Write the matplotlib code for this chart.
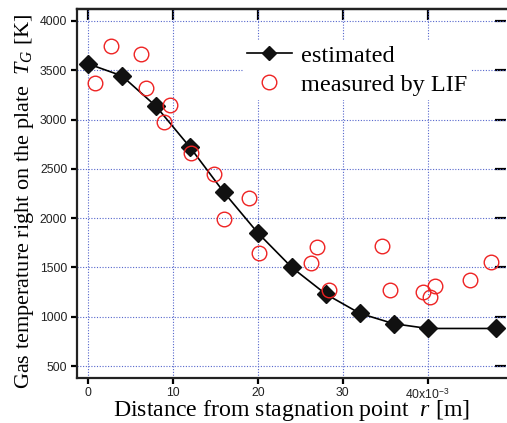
import matplotlib
matplotlib.use("Agg")
import matplotlib.pyplot as plt

plt.rcParams['font.family'] = ['Liberation Serif', 'DejaVu Serif']
plt.rcParams['mathtext.fontset'] = 'custom'
plt.rcParams['mathtext.it'] = 'Liberation Serif:italic'
plt.rcParams['mathtext.rm'] = 'Liberation Sans'

# estimated (x in 1e-3 m, T in K)
est_r = [0, 4, 8, 12, 16, 20, 24, 28, 32, 36, 40, 48]
est_T = [3565, 3442, 3135, 2720, 2262, 1850, 1500, 1230, 1035, 930, 882, 882]

# measured by LIF
lif_r = [0.8, 2.7, 6.3, 6.8, 9.7, 8.9, 12.1, 14.8, 18.9, 16.0, 20.1,
         27.0, 26.3, 28.4, 34.55, 35.6, 39.45, 40.2, 40.8, 45.0, 47.4]
lif_T = [3365, 3744, 3663, 3320, 3152, 2973, 2658, 2445, 2205, 1987, 1645,
         1703, 1545, 1270, 1713, 1270, 1255, 1200, 1310, 1372, 1558]

xticks = [0, 10, 20, 30, 40]
xticklabels = ['0', '10', '20', '30', '40x10$^{-3}$']
yticks = [500, 1000, 1500, 2000, 2500, 3000, 3500, 4000]

fig = plt.figure(figsize=(5.07, 4.23), dpi=100)
ax = fig.add_axes([77/507, 45/423, 429/507, 369/423])

ax.plot(est_r, est_T, color='black', lw=1.2, marker='D', ms=9.2,
        mfc='#111111', mec='#111111', label='estimated', zorder=3)
ax.plot(lif_r, lif_T, ls='none', marker='o', ms=10.5, mfc='none',
        mec='#ee2222', mew=1.0, label='measured by LIF', zorder=4)

ax.set_xlim(-1.29, 49.2)
ax.set_ylim(380, 4120)
ax.set_xticks(xticks)
ax.set_xticklabels(xticklabels)
ax.set_yticks(yticks)
for lab in ax.get_xticklabels() + ax.get_yticklabels():
    lab.set_family('Liberation Sans')
    lab.set_fontsize(8.8)
    lab.set_color('#222222')

ax.grid(True, color='#5566cc', ls=(0, (1, 1.5)), lw=0.8)
ax.set_axisbelow(True)
ax.tick_params(direction='out', length=4, width=1.6, pad=3)
ax.tick_params(axis='x', pad=2.5)
for s in ax.spines.values():
    s.set_linewidth(1.6)
    s.set_color('#222222')
ax.spines['right'].set_visible(False)

top = ax.secondary_xaxis('top')
top.set_xticks(xticks)
top.tick_params(direction='in', length=8, width=1.6, labeltop=False)
top.spines['top'].set_linewidth(1.6)
right = ax.secondary_yaxis('right')
right.set_yticks(yticks)
right.tick_params(direction='in', length=8, width=1.6, labelright=False)
right.spines['right'].set_visible(False)

ax.set_xlabel('Distance from stagnation point  $r$ [m]', fontsize=17.2)
ax.xaxis.set_label_coords(0.5, -0.055)
ax.set_ylabel('Gas temperature right on the plate  $T_G$ [K]', fontsize=16)
ax.yaxis.set_label_coords(-0.096, 0.48)

leg = ax.legend(loc='upper left', bbox_to_anchor=(243/507, 1 - 41/423),
                bbox_transform=fig.transFigure, fontsize=17.5, frameon=True,
                fancybox=False, edgecolor='none', facecolor='white', framealpha=1,
                borderpad=0.15, borderaxespad=0, handlelength=1.85,
                handletextpad=0.4, labelspacing=0.3)
leg.legend_handles[0].set_markersize(7)

fig.savefig('out.png', dpi=100)
